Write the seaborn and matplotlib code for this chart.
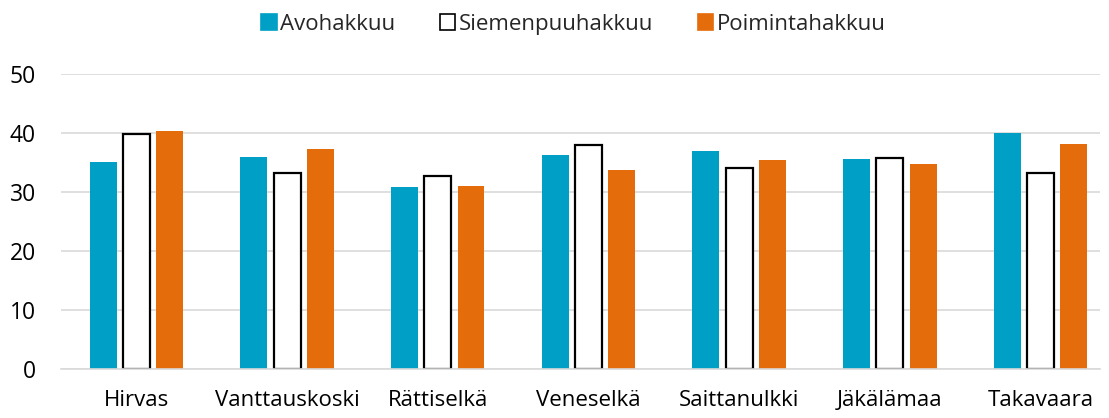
import pandas as pd
import matplotlib.pyplot as plt
import matplotlib.patches as mpatches
import seaborn as sns

# ---------- data ----------
sites = ['Hirvas', 'Vanttauskoski', 'Rättiselkä', 'Veneselkä',
         'Saittanulkki', 'Jäkälämaa', 'Takavaara']
series = ['Avohakkuu', 'Siemenpuuhakkuu', 'Poimintahakkuu']
avohakkuu = [35.1, 35.9, 30.8, 36.3, 37.0, 35.6, 40.0]
siemenpuuhakkuu = [39.9, 33.2, 32.8, 37.9, 34.1, 35.7, 33.2]
poimintahakkuu = [40.4, 37.3, 31.1, 33.7, 35.5, 34.7, 38.1]
yticks = [0, 10, 20, 30, 40, 50]

colors = {'Avohakkuu': '#00A0C6', 'Siemenpuuhakkuu': '#FFFFFF',
          'Poimintahakkuu': '#E46C0A'}

df = pd.DataFrame({'site': sites * 3,
                   'series': [s for s in series for _ in sites],
                   'value': avohakkuu + siemenpuuhakkuu + poimintahakkuu})

sns.set_theme(style='white')
plt.rcParams['font.family'] = ['Open Sans', 'DejaVu Sans']

fig = plt.figure(figsize=(11.09, 4.18), dpi=100)
ax = fig.add_axes([0.055, 0.117, 0.937, 0.706])

sns.barplot(data=df, x='site', y='value', hue='series', palette=colors,
            saturation=1, width=0.662, gap=0.19, ax=ax, legend=False,
            errorbar=None)

# black outline for the white series only
n = len(sites)
for i, patch in enumerate(ax.patches[:3 * n]):
    if n <= i < 2 * n:
        patch.set_edgecolor('black')
        patch.set_linewidth(1.6)
    else:
        patch.set_edgecolor('none')

ax.set_ylim(0, 50)
ax.set_yticks(yticks)
ax.set_xlim(-0.5, n - 0.605)
ax.yaxis.grid(True, color='#d9d9d9', linewidth=1.2)
ax.set_axisbelow(True)
for side in ['top', 'right', 'left']:
    ax.spines[side].set_visible(False)
ax.spines['bottom'].set_color('#d9d9d9')
ax.spines['bottom'].set_linewidth(1.2)
ax.tick_params(axis='both', length=0, colors='black')
ax.tick_params(axis='y', labelsize=16.5, pad=18)
ax.tick_params(axis='x', labelsize=16, pad=15)
ax.set_xlabel('')
ax.set_ylabel('')

handles = [mpatches.Patch(facecolor=colors[s],
                          edgecolor='black' if s == 'Siemenpuuhakkuu' else colors[s],
                          linewidth=1.2, label=s) for s in series]
fig.legend(handles=handles, loc='upper center', bbox_to_anchor=(0.517, 1.015),
           ncol=3, frameon=False, fontsize=16, handlelength=0.7,
           handleheight=0.7, handletextpad=0.15, columnspacing=2.0)

fig.savefig('out.png', dpi=100)
